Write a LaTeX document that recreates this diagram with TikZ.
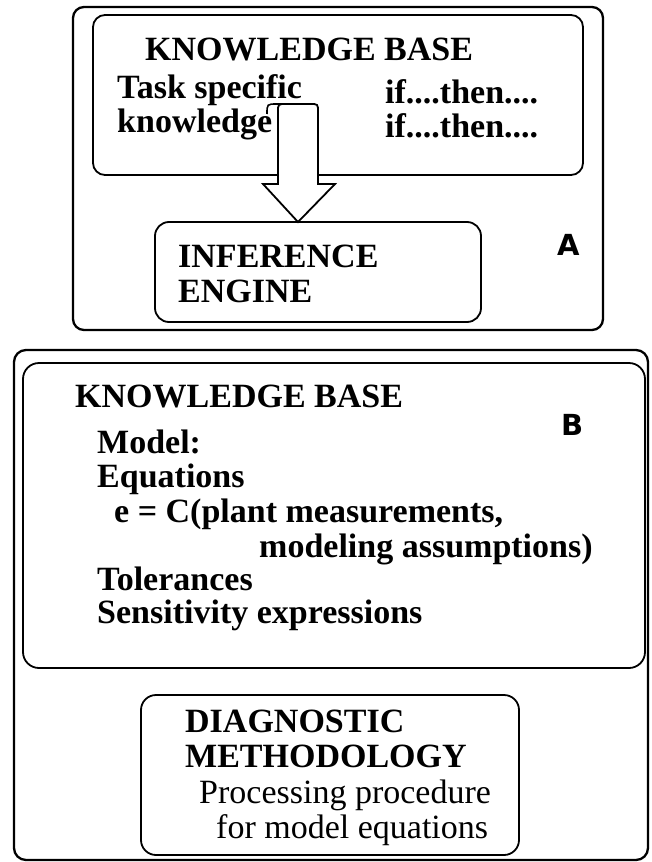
\documentclass[tikz,border=0pt]{standalone}
\usepackage{fontspec}
\setmainfont{Liberation Serif}
\newfontfamily\panelfont{DejaVu Sans}
\begin{document}
\begin{tikzpicture}[x=1pt,y=-1pt,
  frame/.style={draw, line width=2.3pt, inner sep=0pt, outer sep=0pt},
  panel/.style={draw, line width=1.8pt, inner sep=0pt, outer sep=0pt},
  head/.style={anchor=base west, inner sep=0pt, font=\bfseries\fontsize{34}{34}\selectfont},
  plain/.style={anchor=base west, inner sep=0pt, font=\fontsize{34}{34}\selectfont},
  tag/.style={anchor=base west, inner sep=0pt, font=\panelfont\bfseries\fontsize{29}{29}\selectfont}]
\useasboundingbox (0,0) rectangle (651,862);

% ---- Part A: rule-based expert system ----
\node[frame, rounded corners=11pt, minimum width=530, minimum height=323] (outerA) at (338,168.5) {};
\node[panel, rounded corners=12pt, minimum width=490, minimum height=160] (kbA) at (338,95) {};
\node[panel, rounded corners=14pt, minimum width=326, minimum height=100] (inf) at (318,272) {};

\node[head] (kbAtitle) at (145,60) {KNOWLEDGE BASE};
\node[head] (task1) at (117,98) {Task specific};
\node[head] (task2) at (117,132) {knowledge};
\node[head] (rule1) at (385,103) {if....then....};
\node[head] (rule2) at (385,137) {if....then....};
\node[head] (inf1) at (178,267) {INFERENCE};
\node[head] (inf2) at (178,302) {ENGINE};
\node[tag] (tagA) at (557,255) {A};

% block arrow from the knowledge base into the inference engine
\coordinate (tip) at (298,222);
\draw[line width=1.8pt, fill=white, line join=miter]
  (tip) -- (263,184) -- (278,184) -- (278,112)
  .. controls (278,104) .. (286,104) -- (310,104)
  .. controls (318,104) .. (318,112) -- (318,184) -- (335,184) -- cycle;
\draw[line width=1.6pt] (267,114) .. controls (267,104) .. (277,104) -- (286,104);

% ---- Part B: model-based diagnosis ----
\node[frame, rounded corners=12pt, minimum width=634, minimum height=510] (outerB) at (331,605) {};
\node[panel, rounded corners=16pt, minimum width=622, minimum height=305] (kbB) at (334,515.5) {};
\node[panel, rounded corners=15pt, minimum width=378, minimum height=160] (diag) at (330,775) {};

\node[head] (kbBtitle) at (75,407) {KNOWLEDGE BASE};
\node[tag] (tagB) at (561,435) {B};
\node[head] (model) at (97,453) {Model:};
\node[head] (eqs) at (97,487) {Equations};
\node[head] (eq1) at (114,522) {e = C(plant measurements,};
\node[head] (eq2) at (259,557) {modeling assumptions)};
\node[head] (tol) at (97,590) {Tolerances};
\node[head] (sens) at (97,623) {Sensitivity expressions};

\node[head] (diag1) at (185,732) {DIAGNOSTIC};
\node[head] (diag2) at (185,767) {METHODOLOGY};
\node[plain] (proc1) at (199,803) {Processing procedure};
\node[plain] (proc2) at (216,838) {for model equations};
\end{tikzpicture}
\end{document}
